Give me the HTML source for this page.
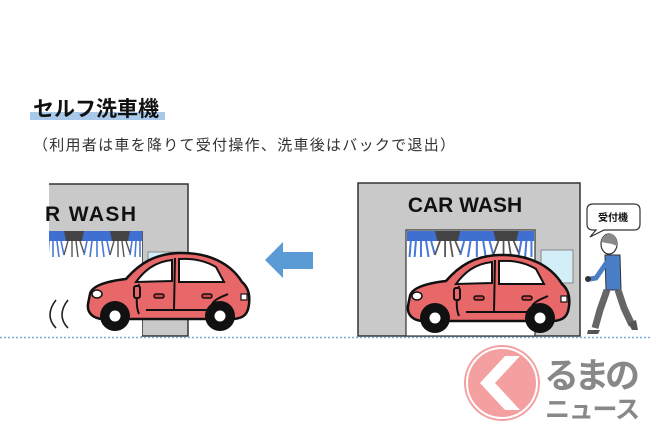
<!DOCTYPE html>
<html><head><meta charset="utf-8"><style>
html,body{margin:0;padding:0;background:#fff;width:650px;height:433px;overflow:hidden}
svg text{font-family:"Liberation Sans","Noto Sans CJK JP",sans-serif}
</style></head><body>
<svg width="650" height="433" viewBox="0 0 650 433" xmlns="http://www.w3.org/2000/svg">
<defs>
<g id="car">
  <path d="M6,42 C8,33 25,29 42,27 C55,12 70,2 95,1 C125,0 147,12 158,30 C165,36 166,44 165,52 C164,62 160,66 150,67 L20,67 C8,67 3,60 4,52 Z" fill="#e8686a" stroke="#111" stroke-width="2.5"/>
  <path d="M52,30 C60,19 70,10 88,8 L88,29 Z" fill="#fff" stroke="#111" stroke-width="2"/>
  <path d="M95,7 C110,6 122,9 132,15 L140,30 L95,30 Z" fill="#fff" stroke="#111" stroke-width="2"/>
  <path d="M91,6 L90,58 M55,32 C52,45 52,55 55,62 M62,58 L145,58 M128,52 C132,46 140,44 144,42" fill="none" stroke="#111" stroke-width="2"/>
  <rect x="50" y="34" width="6" height="12" rx="2" fill="#e8686a" stroke="#111" stroke-width="2"/>
  <rect x="70" y="42" width="10" height="4" rx="2" fill="#c44" stroke="#111" stroke-width="1.5"/>
  <rect x="118" y="42" width="10" height="4" rx="2" fill="#c44" stroke="#111" stroke-width="1.5"/>
  <ellipse cx="13" cy="42" rx="5" ry="4" fill="#fff" stroke="#111" stroke-width="1.5"/>
  <rect x="157" y="42" width="6" height="6" fill="#fff" stroke="#111" stroke-width="1.2"/>
  <circle cx="31" cy="64" r="15" fill="#111"/><circle cx="31" cy="64" r="5.5" fill="#fff"/>
  <circle cx="136" cy="64" r="15" fill="#111"/><circle cx="136" cy="64" r="5.5" fill="#fff"/>
</g>
<g id="brush">
  <rect x="0" y="0" width="100" height="28" fill="#fff"/>
  <rect x="0" y="0" width="100" height="10" fill="#3f6fd0"/>
  <g stroke="#4a78d8" stroke-width="1.6">
    <path d="M3,10 L2,26 M7,10 L6,26 M11,10 L11,26 M15,10 L17,26 M19,10 L22,24 M45,10 L42,24 M50,10 L48,26 M55,10 L55,26 M60,10 L62,26 M65,10 L68,24 M90,10 L88,24 M94,10 L93,26 M98,10 L98,26"/>
  </g>
  <path d="M22,0 L42,0 L40,10 L24,10 Z M68,0 L88,0 L86,10 L70,10 Z" fill="#444"/>
  <g stroke="#555" stroke-width="1.4"><path d="M26,10 L22,24 M30,10 L30,26 M34,10 L36,26 M38,10 L42,22 M72,10 L68,24 M76,10 L76,26 M80,10 L82,26 M84,10 L88,22"/></g>
</g>
</defs>

<rect x="30" y="112" width="135" height="8" fill="#a9c9ea"/>
<text x="33" y="116" font-size="21" font-weight="bold" fill="#111">セルフ洗車機</text>
<text x="33" y="150" font-size="15" fill="#333" textLength="422">（利用者は車を降りて受付操作、洗車後はバックで退出）</text>

<rect x="49" y="184" width="139" height="152" fill="#c9c9c9"/>
<path d="M49,184 L188,184 L188,336 L142,336 L142,231" fill="none" stroke="#333" stroke-width="1.5"/>
<text x="45" y="221" font-size="21" font-weight="bold" fill="#111" textLength="91">R WASH</text>
<svg x="49" y="231" width="93" height="28" viewBox="7 0 93 28" preserveAspectRatio="none"><use href="#brush"/></svg>
<rect x="49" y="259" width="93" height="77" fill="#fff"/>
<rect x="148" y="252" width="32" height="32" fill="#d4eef8" stroke="#888" stroke-width="1"/>
<use href="#car" x="84" y="252"/>
<path d="M56,300 C48,310 48,320 56,328 M68,300 C60,310 60,320 68,328" fill="none" stroke="#222" stroke-width="1.6"/>

<path d="M265,260 L283,242 L283,252 L313,252 L313,269 L283,269 L283,278 Z" fill="#5b9bd5"/>

<rect x="358" y="183" width="222" height="153" fill="#c9c9c9" stroke="#333" stroke-width="1.5"/>
<text x="465" y="212" font-size="21" font-weight="bold" fill="#111" text-anchor="middle">CAR WASH</text>
<rect x="406" y="230" width="129" height="106" fill="#fff" stroke="#333" stroke-width="1.2"/>
<svg x="407" y="231" width="127" height="28" viewBox="0 0 100 28" preserveAspectRatio="none"><use href="#brush"/></svg>
<rect x="541" y="250" width="32" height="33" fill="#d4eef8" stroke="#888" stroke-width="1"/>
<use href="#car" x="404" y="254"/>

<path d="M593,204 L634,204 Q640,204 640,210 L640,224 Q640,230 634,230 L604,230 L590,237 L596,230 L593,230 Q587,230 587,224 L587,210 Q587,204 593,204 Z" fill="#fff" stroke="#333" stroke-width="1.2"/>
<text x="613" y="221" font-size="10" font-weight="bold" fill="#111" text-anchor="middle">受付機</text>

<ellipse cx="609" cy="244" rx="8" ry="10" fill="#fff" stroke="#333" stroke-width="1.2"/>
<path d="M601,242 Q603,233 612,234 Q618,238 617,246 L612,244 Z" fill="#8a8a8a"/>
<path d="M605,255 L620,255 L621,290 L606,290 Z" fill="#4a7fc8" stroke="#333" stroke-width="1"/>
<path d="M607,262 L596,278 L590,279" fill="none" stroke="#4a7fc8" stroke-width="5"/>
<circle cx="588" cy="279" r="3" fill="#333"/>
<path d="M607,290 L600,310 L595,328 M618,290 L624,308 L632,325" fill="none" stroke="#666" stroke-width="7"/>
<path d="M588,330 L600,330 L598,334 L587,334 Z M628,323 L636,320 L638,330 L632,330 Z" fill="#555"/>

<line x1="0" y1="337.5" x2="650" y2="337.5" stroke="#7aaad8" stroke-width="1.5" stroke-dasharray="2,2"/>

<circle cx="502" cy="383" r="38" fill="#f4a0a0"/>
<circle cx="502" cy="383" r="35" fill="none" stroke="#fff" stroke-width="2"/>
<path d="M505,356 L480,383 L505,410 L520,410 L495,383 L520,356 Z" fill="#fff"/>
<text x="544" y="388" font-size="35" font-weight="bold" fill="#888" textLength="96">るまの</text>
<text x="545" y="418" font-size="25" font-weight="bold" fill="#888" textLength="95">ニュース</text>
</svg>
</body></html>
